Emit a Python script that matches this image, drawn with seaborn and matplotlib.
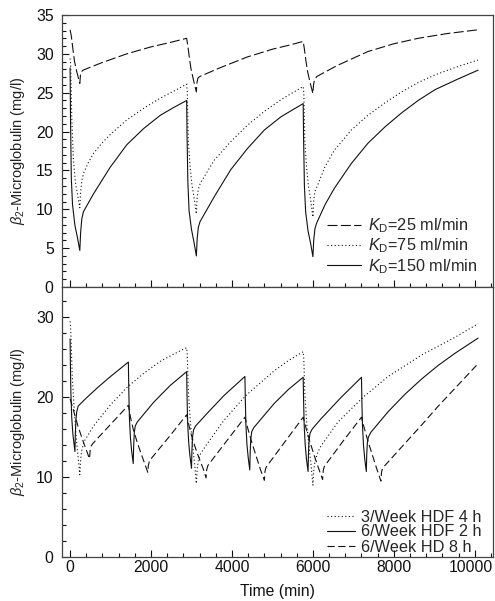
import matplotlib
matplotlib.use("Agg")
import matplotlib.pyplot as plt
from matplotlib.ticker import MultipleLocator
from matplotlib.transforms import ScaledTranslation
import seaborn as sns

# ---- top panel: dialysate clearance K_D (3 sessions / week, 4 h) ----
T_KD150 = [0, 10, 30, 60, 120, 180, 240, 260, 290, 330, 580, 990, 1400, 1820, 2230, 2560, 2880,
           2890, 2910, 2940, 3000, 3060, 3120, 3140, 3170, 3210, 3560, 3970, 4380, 4800, 5210, 5500, 5760,
           5770, 5790, 5820, 5880, 5940, 6000, 6020, 6050, 6090, 6300, 6530, 6950, 7360, 7780, 8190, 8600,
           9020, 9600, 10080]
V_KD150 = [28.2, 22.0, 14.0, 10.6, 7.9, 6.4, 4.7, 7.0, 8.8, 9.7, 12.0, 15.4, 18.3, 20.4, 22.1, 23.1, 24.0,
           19.5, 13.5, 9.8, 7.4, 5.8, 4.0, 6.2, 7.7, 8.4, 11.6, 15.1, 17.8, 20.2, 21.9, 22.8, 23.6,
           19.0, 13.0, 9.7, 7.2, 5.7, 3.9, 6.0, 7.5, 8.2, 10.6, 12.7, 15.9, 18.5, 20.6, 22.4, 24.0,
           25.4, 26.8, 27.9]

T_KD75 = [0, 15, 40, 80, 130, 190, 240, 260, 290, 330, 450, 580, 800, 990, 1400, 1820, 2230, 2560, 2880,
          2895, 2920, 2960, 3010, 3070, 3120, 3140, 3170, 3220, 3560, 3970, 4380, 4800, 5210, 5500, 5760,
          5775, 5800, 5840, 5890, 5950, 6000, 6020, 6050, 6100, 6300, 6530, 6950, 7360, 7780, 8190, 8600,
          9020, 9600, 10080]
V_KD75 = [29.4, 28.5, 22.0, 16.5, 13.5, 11.7, 10.2, 12.3, 13.7, 14.6, 16.0, 17.2, 18.6, 19.6, 21.5, 23.0, 24.3, 25.2, 26.1,
          25.2, 19.0, 15.8, 13.2, 11.3, 9.4, 11.5, 12.6, 13.4, 16.3, 18.7, 20.8, 22.6, 24.1, 25.0, 25.8,
          25.0, 19.0, 15.6, 13.0, 11.0, 9.0, 11.2, 12.3, 12.9, 15.5, 17.6, 20.2, 22.1, 23.7, 25.1, 26.3,
          27.3, 28.4, 29.2]

T_KD25 = [0, 30, 70, 110, 170, 240, 255, 280, 320, 800, 1400, 2000, 2500, 2880,
          2910, 2950, 2990, 3050, 3120, 3135, 3160, 3210, 3700, 4380, 5000, 5400, 5760,
          5790, 5830, 5870, 5930, 6000, 6015, 6040, 6100, 6600, 7360, 8000, 8600, 9300, 10080]
V_KD25 = [33.1, 32.3, 30.6, 29.0, 27.6, 26.2, 27.2, 27.7, 27.9, 28.9, 30.0, 30.9, 31.5, 32.0,
          31.0, 29.4, 28.0, 26.6, 25.1, 26.3, 26.9, 27.1, 28.2, 29.6, 30.6, 31.1, 31.6,
          30.6, 29.0, 27.7, 26.3, 24.9, 26.0, 26.7, 27.1, 28.5, 30.3, 31.3, 32.0, 32.6, 33.1]

# ---- bottom panel: treatment schedules ----
T_HDF3 = [0, 20, 50, 100, 160, 240, 260, 290, 340, 580, 990, 1400, 1820, 2230, 2560, 2880,
          2895, 2920, 2970, 3030, 3080, 3120, 3140, 3170, 3230, 3390, 3800, 4340, 5040, 5400, 5760,
          5775, 5800, 5850, 5910, 5960, 6000, 6020, 6050, 6120, 6200, 6620, 7240, 7860, 8690, 9510, 10080]
V_HDF3 = [29.5, 28.0, 23.0, 18.5, 14.5, 10.3, 12.2, 13.4, 14.4, 16.4, 19.0, 21.2, 23.0, 24.5, 25.4, 26.2,
          25.3, 21.0, 17.0, 13.8, 11.5, 9.2, 11.0, 12.2, 13.0, 14.2, 17.1, 20.2, 23.3, 24.6, 25.7,
          24.8, 20.5, 16.5, 13.5, 11.2, 9.0, 10.8, 12.0, 13.1, 13.9, 16.9, 20.0, 22.6, 25.3, 27.5, 29.2]

T_HDF6 = [0, 8, 20, 40, 70, 120, 130, 145, 165, 200, 400, 700, 1000, 1440,
          1450, 1465, 1490, 1520, 1560, 1570, 1585, 1610, 1660, 2070, 2480, 2880,
          2890, 2905, 2930, 2960, 3000, 3010, 3025, 3050, 3100, 3390, 3800, 4320,
          4330, 4345, 4370, 4400, 4440, 4450, 4465, 4490, 4540, 5040, 5400, 5760,
          5770, 5785, 5810, 5840, 5880, 5890, 5905, 5930, 5980, 6200, 6700, 7200,
          7210, 7225, 7250, 7280, 7320, 7330, 7345, 7370, 7430, 7860, 8280, 8690, 9100, 9510, 10080]
V_HDF6 = [27.3, 24.0, 20.5, 17.5, 15.3, 13.2, 15.5, 17.2, 18.2, 18.9, 19.9, 21.3, 22.6, 24.4,
          21.0, 17.5, 15.0, 13.3, 11.7, 13.8, 15.5, 16.4, 16.9, 19.4, 21.5, 23.2,
          20.0, 16.8, 14.4, 12.7, 11.1, 13.3, 15.0, 15.9, 16.4, 18.0, 20.2, 22.6,
          19.6, 16.5, 14.1, 12.5, 10.9, 13.1, 14.8, 15.7, 16.2, 19.2, 21.0, 22.5,
          19.5, 16.4, 14.0, 12.3, 10.7, 12.9, 14.6, 15.5, 16.0, 17.3, 20.0, 22.5,
          19.5, 16.4, 14.0, 12.3, 10.7, 12.8, 14.3, 15.0, 15.6, 18.2, 20.4, 22.3, 24.0, 25.5, 27.4]

T_HD6 = [0, 60, 120, 200, 300, 400, 480, 495, 520, 560, 1000, 1440,
         1500, 1560, 1650, 1750, 1850, 1920, 1935, 1960, 2000, 2440, 2880,
         2940, 3000, 3100, 3200, 3300, 3360, 3375, 3400, 3440, 3880, 4320,
         4380, 4480, 4600, 4700, 4800, 4815, 4840, 4880, 5320, 5760,
         5820, 5920, 6040, 6140, 6240, 6255, 6280, 6320, 6760, 7200,
         7260, 7360, 7480, 7580, 7680, 7695, 7720, 7770, 8270, 8700, 9100, 9600, 10080]
V_HD6 = [19.8, 18.8, 17.7, 16.3, 14.8, 13.4, 12.3, 13.3, 13.9, 14.2, 16.6, 19.0,
         17.3, 16.0, 14.5, 13.0, 11.6, 10.6, 11.5, 12.0, 12.3, 15.0, 17.8,
         16.4, 15.2, 13.6, 12.2, 10.9, 9.9, 10.9, 11.4, 11.7, 14.6, 17.5,
         16.3, 14.5, 12.6, 11.0, 9.6, 10.7, 11.2, 11.5, 14.5, 17.5,
         16.3, 14.5, 12.6, 11.1, 9.7, 10.8, 11.3, 11.6, 14.6, 17.5,
         16.3, 14.5, 12.6, 11.0, 9.5, 10.6, 11.1, 11.4, 14.2, 16.6, 18.9, 21.6, 24.2]

X_TICKS = [0, 2000, 4000, 6000, 8000, 10000]
YLABEL = r"$\beta_2$-Microglobulin (mg/l)"

sns.set_theme(style="ticks")
plt.rcParams["font.family"] = ["Liberation Sans", "DejaVu Sans"]
plt.rcParams["mathtext.fontset"] = "custom"
plt.rcParams["mathtext.rm"] = "Liberation Sans"
plt.rcParams["mathtext.it"] = "Liberation Sans:italic"

INK = "#111111"
SPINE = "#444444"
DASH_TOP = (0, (9, 3))
DASH_BOT = (0, (6.5, 3.2))
DOT = (0, (1, 2.2))
TICK_FS = 11.3
LEG_FS = 11.7

fig = plt.figure(figsize=(4.95, 6.01), dpi=100)
left, width = 62 / 495, 431 / 495
ax_top = fig.add_axes([left, 1 - 287 / 601, width, 272 / 601])
ax_bot = fig.add_axes([left, 1 - 557 / 601, width, 270 / 601])


def line(ax, t, v, ls, label):
    sns.lineplot(x=t, y=v, ax=ax, sort=False, estimator=None, color=INK,
                 linewidth=0.8, linestyle=ls, label=label)


line(ax_top, T_KD25, V_KD25, DASH_TOP, r"$K_\mathrm{D}$=25 ml/min")
line(ax_top, T_KD75, V_KD75, DOT, r"$K_\mathrm{D}$=75 ml/min")
line(ax_top, T_KD150, V_KD150, "-", r"$K_\mathrm{D}$=150 ml/min")

line(ax_bot, T_HDF3, V_HDF3, DOT, "3/Week HDF 4 h")
line(ax_bot, T_HDF6, V_HDF6, "-", "6/Week HDF 2 h")
line(ax_bot, T_HD6, V_HD6, DASH_BOT, "6/Week HD 8 h")

for ax in (ax_top, ax_bot):
    ax.set_xlim(-200, 10450)
    ax.xaxis.set_major_locator(MultipleLocator(2000))
    ax.xaxis.set_minor_locator(MultipleLocator(400))
    ax.tick_params(which="both", direction="in", colors=INK, width=0.8,
                   labelsize=TICK_FS, top=False, right=False)
    ax.tick_params(which="major", length=5)
    ax.tick_params(which="minor", length=3)
    ax.tick_params(axis="y", pad=6)
    ax.tick_params(axis="x", pad=2.5)
    for s in ax.spines.values():
        s.set_visible(True)
        s.set_color(SPINE)
        s.set_linewidth(0.9)
    ax.set_facecolor("white")
    ax.set_ylabel(YLABEL, fontsize=10.5, color="#222222")
    ax.yaxis.set_label_coords(-0.082, 0.5)

ax_top.set_ylim(0, 35)
ax_top.yaxis.set_major_locator(MultipleLocator(5))
ax_top.yaxis.set_minor_locator(MultipleLocator(1))
ax_top.tick_params(axis="x", labelbottom=False)
ax_top.set_xlabel("")

ax_bot.set_ylim(0, 33.8)
ax_bot.yaxis.set_major_locator(MultipleLocator(10))
ax_bot.yaxis.set_minor_locator(MultipleLocator(2))
ax_bot.set_xticks(X_TICKS)
ax_bot.set_xticklabels([str(x) for x in X_TICKS])
ax_bot.set_xlabel("Time (min)", fontsize=TICK_FS, color=INK)
ax_bot.xaxis.set_label_coords(0.5, -0.1)

# last tick label sits at the right edge; nudge it inside the canvas
last = ax_bot.get_xticklabels()[-1]
last.set_transform(last.get_transform() + ScaledTranslation(-0.04, 0, fig.dpi_scale_trans))

ax_top.legend(loc="center left", bbox_to_anchor=(327 / 495, 1 - 246 / 601),
              bbox_transform=fig.transFigure, frameon=False, fontsize=LEG_FS,
              borderpad=0, borderaxespad=0, handlelength=2.1, handletextpad=0.4,
              labelspacing=0.1)
ax_bot.legend(loc="center left", bbox_to_anchor=(327 / 495, 1 - 532 / 601),
              bbox_transform=fig.transFigure, frameon=False, fontsize=LEG_FS,
              borderpad=0, borderaxespad=0, handlelength=1.75, handletextpad=0.35,
              labelspacing=0.0)

fig.savefig("out.png", dpi=100, facecolor="white")
